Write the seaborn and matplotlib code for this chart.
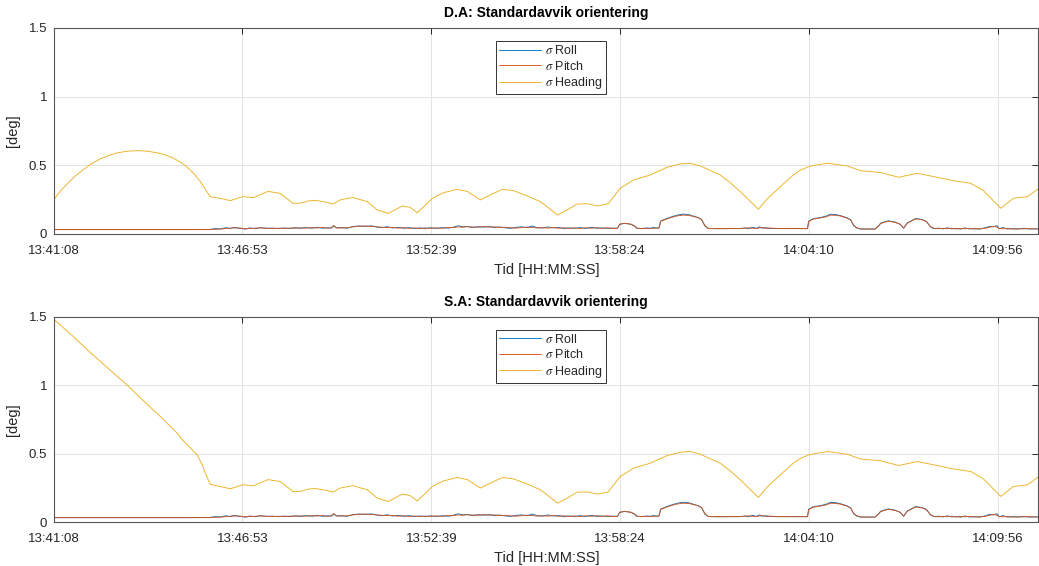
import matplotlib
matplotlib.use("Agg")
import matplotlib.pyplot as plt
from matplotlib.lines import Line2D
import seaborn as sns

# Time axis: seconds after the first sample (13:41:08)
tick_seconds = [0, 345, 691, 1036, 1382, 1728]
tick_labels = ["13:41:08", "13:46:53", "13:52:39", "13:58:24", "14:04:10", "14:09:56"]
t_end = 1803

# Roll / pitch standard deviation [deg], shared by both panels
t_rp = [0, 120, 240, 285, 295, 305, 315, 322, 330, 340, 350, 358, 368, 378, 390, 400, 410, 420,
        432, 442, 452, 462, 472, 482, 492, 500, 508, 512, 517, 527, 537, 548, 558, 570, 582, 592,
        600, 610, 620, 630, 640, 650, 660, 670, 680, 690, 700, 712, 722, 732, 740, 748, 756, 766,
        776, 786, 796, 806, 816, 826, 836, 846, 856, 866, 876, 884, 894, 904, 914, 924, 934, 944,
        954, 964, 974, 984, 994, 1004, 1014, 1024, 1032, 1036, 1045, 1056, 1063, 1067, 1075, 1085,
        1092, 1098, 1104, 1108, 1111, 1118, 1128, 1140, 1152, 1162, 1172, 1180, 1186, 1192, 1198,
        1210, 1225, 1240, 1255, 1266, 1272, 1280, 1286, 1292, 1298, 1304, 1312, 1325, 1345, 1365,
        1380, 1382, 1390, 1404, 1414, 1422, 1432, 1440, 1452, 1459, 1465, 1470, 1477, 1490, 1504,
        1510, 1514, 1528, 1541, 1550, 1556, 1563, 1578, 1590, 1598, 1605, 1612, 1620, 1628, 1636,
        1644, 1652, 1660, 1668, 1676, 1686, 1696, 1706, 1714, 1721, 1727, 1731, 1738, 1746, 1756,
        1766, 1776, 1786, 1796, 1803]
roll = [0.032, 0.032, 0.032, 0.033, 0.039, 0.037, 0.046, 0.040, 0.048, 0.042, 0.036, 0.044, 0.039,
        0.046, 0.041, 0.043, 0.039, 0.043, 0.040, 0.046, 0.041, 0.047, 0.042, 0.049, 0.042, 0.045,
        0.043, 0.058, 0.044, 0.047, 0.042, 0.055, 0.058, 0.056, 0.059, 0.050, 0.046, 0.053, 0.044,
        0.048, 0.042, 0.046, 0.040, 0.044, 0.041, 0.045, 0.041, 0.046, 0.043, 0.050, 0.060, 0.052,
        0.055, 0.048, 0.053, 0.050, 0.054, 0.048, 0.051, 0.045, 0.041, 0.048, 0.052, 0.046, 0.058,
        0.047, 0.043, 0.051, 0.045, 0.047, 0.040, 0.044, 0.041, 0.046, 0.041, 0.048, 0.042, 0.044,
        0.041, 0.043, 0.041, 0.070, 0.078, 0.071, 0.058, 0.043, 0.039, 0.044, 0.042, 0.047, 0.043,
        0.046, 0.095, 0.106, 0.121, 0.136, 0.145, 0.141, 0.129, 0.119, 0.106, 0.058, 0.041, 0.039,
        0.039, 0.040, 0.039, 0.044, 0.040, 0.048, 0.041, 0.052, 0.042, 0.046, 0.040, 0.039, 0.040,
        0.039, 0.039, 0.093, 0.111, 0.120, 0.130, 0.144, 0.141, 0.134, 0.119, 0.103, 0.058, 0.044,
        0.036, 0.036, 0.037, 0.060, 0.079, 0.096, 0.086, 0.069, 0.042, 0.081, 0.113, 0.105, 0.091,
        0.052, 0.038, 0.043, 0.037, 0.045, 0.037, 0.041, 0.036, 0.044, 0.037, 0.039, 0.036, 0.046,
        0.056, 0.052, 0.061, 0.038, 0.047, 0.036, 0.039, 0.036, 0.042, 0.036, 0.038, 0.037]
pitch = [0.032, 0.032, 0.032, 0.032, 0.034, 0.036, 0.040, 0.042, 0.044, 0.043, 0.038, 0.040, 0.042,
         0.044, 0.042, 0.040, 0.042, 0.041, 0.043, 0.042, 0.045, 0.043, 0.046, 0.044, 0.047, 0.042,
         0.046, 0.062, 0.045, 0.043, 0.046, 0.052, 0.056, 0.058, 0.055, 0.052, 0.049, 0.047, 0.048,
         0.043, 0.046, 0.041, 0.044, 0.040, 0.043, 0.041, 0.044, 0.042, 0.047, 0.046, 0.052, 0.049,
         0.053, 0.051, 0.049, 0.054, 0.050, 0.052, 0.047, 0.049, 0.045, 0.043, 0.046, 0.050, 0.047,
         0.044, 0.046, 0.043, 0.047, 0.042, 0.045, 0.041, 0.044, 0.040, 0.045, 0.042, 0.046, 0.041,
         0.045, 0.040, 0.042, 0.072, 0.077, 0.072, 0.060, 0.042, 0.040, 0.040, 0.041, 0.042, 0.041,
         0.043, 0.093, 0.103, 0.117, 0.131, 0.137, 0.136, 0.127, 0.118, 0.104, 0.062, 0.040, 0.039,
         0.039, 0.039, 0.040, 0.041, 0.045, 0.042, 0.040, 0.044, 0.046, 0.041, 0.043, 0.040, 0.039,
         0.039, 0.039, 0.090, 0.108, 0.117, 0.125, 0.137, 0.136, 0.131, 0.116, 0.101, 0.062, 0.046,
         0.037, 0.036, 0.036, 0.058, 0.076, 0.093, 0.084, 0.071, 0.044, 0.079, 0.110, 0.103, 0.089,
         0.054, 0.040, 0.038, 0.041, 0.039, 0.042, 0.037, 0.040, 0.038, 0.041, 0.037, 0.038, 0.042,
         0.050, 0.055, 0.050, 0.040, 0.038, 0.041, 0.036, 0.038, 0.037, 0.040, 0.036, 0.038]

# Heading standard deviation [deg]: the two panels differ only at the start
t_hd_da_start = [0, 6, 12, 23, 38, 54, 68, 84, 100, 115, 133, 152, 170, 188, 204, 219, 232, 243, 256,
                 268, 278, 286]
heading_da_start = [0.25, 0.285, 0.315, 0.36, 0.42, 0.47, 0.51, 0.546, 0.572, 0.59, 0.602, 0.607,
                    0.603, 0.592, 0.575, 0.551, 0.522, 0.49, 0.44, 0.381, 0.32, 0.272]
t_hd_sa_start = [0, 34, 66, 100, 134, 156, 176, 192, 207, 222, 235, 249, 262, 270, 278, 286]
heading_sa_start = [1.48, 1.36, 1.24, 1.12, 1.00, 0.915, 0.84, 0.782, 0.722, 0.665, 0.60, 0.545, 0.49,
                    0.43, 0.35, 0.275]
t_hd_tail = [304, 323, 346, 365, 392, 414, 438, 453, 465, 478, 497, 511, 524, 539, 548, 574, 592,
             612, 638, 652, 665, 676, 693, 713, 738, 757, 781, 799, 821, 841, 867, 891, 909, 922,
             940, 958, 977, 995, 1015, 1037, 1061, 1092, 1123, 1147, 1165, 1184, 1220, 1238, 1257,
             1290, 1307, 1325, 1340, 1354, 1367, 1382, 1400, 1418, 1453, 1477, 1514, 1547, 1581,
             1611, 1647, 1679, 1702, 1734, 1757, 1783, 1803]
heading_tail = [0.26, 0.243, 0.272, 0.265, 0.31, 0.296, 0.223, 0.225, 0.24, 0.245, 0.233, 0.218,
                0.248, 0.26, 0.265, 0.235, 0.175, 0.15, 0.204, 0.194, 0.155, 0.194, 0.26, 0.30,
                0.325, 0.31, 0.248, 0.284, 0.325, 0.316, 0.277, 0.235, 0.18, 0.138, 0.175, 0.218,
                0.22, 0.204, 0.22, 0.333, 0.393, 0.43, 0.486, 0.51, 0.515, 0.495, 0.43, 0.375,
                0.308, 0.18, 0.26, 0.325, 0.38, 0.43, 0.465, 0.49, 0.505, 0.515, 0.495, 0.461,
                0.447, 0.413, 0.442, 0.418, 0.388, 0.369, 0.316, 0.187, 0.26, 0.272, 0.33]

panels = [
    ("D.A: Standardavvik orientering", t_hd_da_start + t_hd_tail, heading_da_start + heading_tail),
    ("S.A: Standardavvik orientering", t_hd_sa_start + t_hd_tail, heading_sa_start + heading_tail),
]

series_names = [r"$\sigma$ Roll", r"$\sigma$ Pitch", r"$\sigma$ Heading"]
series_colors = ["#0072BD", "#D95319", "#EDB120"]
ink = "#262626"
lw = 0.65

sns.set_style("white")
plt.rcParams["font.family"] = ["Liberation Sans", "DejaVu Sans"]
plt.rcParams["mathtext.fontset"] = "stix"

fig = plt.figure(figsize=(10.39, 5.66), dpi=100)
rects = [[0.052, 0.5866, 0.9475, 0.364], [0.052, 0.0777, 0.9475, 0.3627]]

for rect, (title, t_hd, heading) in zip(rects, panels):
    ax = fig.add_axes(rect)
    sns.lineplot(x=t_rp, y=roll, ax=ax, color=series_colors[0], lw=lw,
                 estimator=None, sort=False, legend=False)
    sns.lineplot(x=t_rp, y=pitch, ax=ax, color=series_colors[1], lw=lw,
                 estimator=None, sort=False, legend=False)
    sns.lineplot(x=t_hd, y=heading, ax=ax, color=series_colors[2], lw=lw,
                 estimator=None, sort=False, legend=False)

    ax.set_xlim(0, t_end)
    ax.set_ylim(0, 1.5)
    ax.set_xticks(tick_seconds)
    ax.set_xticklabels(tick_labels)
    ax.set_yticks([0, 0.5, 1, 1.5])
    ax.set_yticklabels(["0", "0.5", "1", "1.5"])
    ax.grid(True, color="#e3e3e3", lw=0.7)
    ax.set_axisbelow(True)
    ax.tick_params(direction="in", length=4, width=0.7, colors=ink, labelsize=9.5,
                   top=True, right=True)
    ax.tick_params(axis="x", pad=8)
    ax.tick_params(axis="y", pad=5)
    for s in ax.spines.values():
        s.set_visible(True)
        s.set_color("#555555")
        s.set_linewidth(0.8)
    ax.set_title(title, fontsize=10, fontweight="bold", color="black", pad=8)
    ax.set_xlabel("Tid [HH:MM:SS]", fontsize=10.5, color=ink, labelpad=4)
    ax.set_ylabel("[deg]", fontsize=10.5, color=ink, labelpad=6)

    handles = [Line2D([], [], color=c, lw=lw) for c in series_colors]
    leg = ax.legend(handles, series_names, loc="upper center", bbox_to_anchor=(0.5045, 0.937),
                    fontsize=9, handlelength=3.4, handletextpad=0.3, labelspacing=0.2,
                    borderpad=0.25, borderaxespad=0, fancybox=False, framealpha=1)
    leg.get_frame().set_edgecolor("#333333")
    leg.get_frame().set_linewidth(0.7)

fig.savefig("out.png", dpi=100)
